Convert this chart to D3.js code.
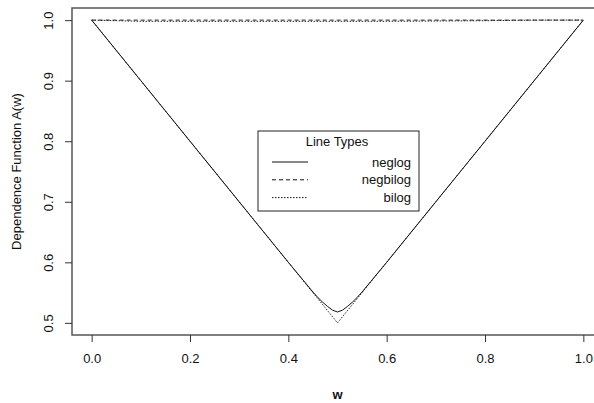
<!DOCTYPE html>
<html>
<head>
<meta charset="utf-8">
<script src="https://cdn.jsdelivr.net/npm/d3@7"></script>
<style>
  body { margin: 0; background: #fff; }
  text { font-family: "Liberation Sans", Arial, sans-serif; fill: #111; }
</style>
</head>
<body>
<div id="chart"></div>
<script>
// values
var neglogW = [0, 0.1, 0.2, 0.3, 0.4, 0.45, 0.46, 0.47, 0.48, 0.49, 0.5, 0.51, 0.52, 0.53, 0.54, 0.55, 0.6, 0.7, 0.8, 0.9, 1],
    neglogA = [1, 0.9, 0.8, 0.7, 0.6, 0.551, 0.542, 0.534, 0.527, 0.521, 0.518, 0.521, 0.527, 0.534, 0.542, 0.551, 0.6, 0.7, 0.8, 0.9, 1];
var negbilogW = [0, 0.5, 1],
    negbilogA = [1, 1, 1];
var bilogW = [0, 0.1, 0.3, 0.6, 0.8, 0.9, 1],
    bilogA = [1, 0.998, 0.998, 0.998, 0.999, 1, 1];
var borderW = [0, 0.5, 1],
    borderA = [1, 0.5, 1];
var xTicks = [0, 0.2, 0.4, 0.6, 0.8, 1.0],
    yTicks = [0.5, 0.6, 0.7, 0.8, 0.9, 1.0];
var legendNames = ["neglog", "negbilog", "bilog"],
    legendDash = [null, "4,3", "1.5,1.5"];

var width = 594, height = 403;
var margin = {top: 8, right: -9, bottom: 68, left: 72};
var pw = width - margin.left - margin.right,
    ph = height - margin.top - margin.bottom;

var svg = d3.select("#chart").append("svg")
    .attr("width", width)
    .attr("height", height);

var g = svg.append("g")
    .attr("transform", "translate(" + margin.left + "," + margin.top + ")");

// R style 4% padding
var x = d3.scaleLinear().domain([-0.04, 1.04]).range([0, pw]),
    y = d3.scaleLinear().domain([0.48, 1.02]).range([ph, 0]);

var line = d3.line()
    .x(function (d) { return x(d[0]); })
    .y(function (d) { return y(d[1]); });

function pairs(ws, as) {
    return ws.map(function (w, i) { return [w, as[i]]; });
}

g.append("path")
    .datum(pairs(borderW, borderA))
    .attr("d", line)
    .attr("fill", "none")
    .attr("stroke", "#222")
    .attr("stroke-width", 1)
    .attr("stroke-dasharray", legendDash[2]);

g.append("path")
    .datum(pairs(bilogW, bilogA))
    .attr("d", line)
    .attr("fill", "none")
    .attr("stroke", "#222")
    .attr("stroke-width", 1)
    .attr("stroke-dasharray", legendDash[2]);

g.append("path")
    .datum(pairs(negbilogW, negbilogA))
    .attr("d", line)
    .attr("fill", "none")
    .attr("stroke", "#222")
    .attr("stroke-width", 1)
    .attr("stroke-dasharray", legendDash[1]);

g.append("path")
    .datum(pairs(neglogW, neglogA))
    .attr("d", line)
    .attr("fill", "none")
    .attr("stroke", "#111")
    .attr("stroke-width", 1);

// frame
g.append("rect")
    .attr("width", pw)
    .attr("height", ph)
    .attr("fill", "none")
    .attr("stroke", "#555")
    .attr("stroke-width", 1.5);

// x axis
var xAxis = g.append("g")
    .attr("transform", "translate(0," + ph + ")")
    .call(d3.axisBottom(x).tickValues(xTicks).tickFormat(d3.format(".1f")).tickSize(7).tickPadding(12));
xAxis.select(".domain").remove();
xAxis.selectAll("line").attr("stroke", "#333");
xAxis.selectAll("text").style("font-size", "13px").attr("fill", "#111");

// y axis, labels rotated like R
var yAxis = g.append("g")
    .call(d3.axisLeft(y).tickValues(yTicks).tickFormat(d3.format(".1f")).tickSize(7).tickPadding(0));
yAxis.select(".domain").remove();
yAxis.selectAll("line").attr("stroke", "#333");
yAxis.selectAll("text")
    .style("font-size", "13px")
    .attr("fill", "#111")
    .attr("text-anchor", "middle")
    .attr("x", 0).attr("dy", 0)
    .attr("transform", "translate(-19,0) rotate(-90)");

svg.append("text")
    .attr("x", margin.left + x(0.5))
    .attr("y", 399)
    .attr("text-anchor", "middle")
    .style("font-size", "13px")
    .style("font-weight", "bold")
    .text("w");

svg.append("text")
    .attr("transform", "translate(21," + (margin.top + y(0.75)) + ") rotate(-90)")
    .attr("text-anchor", "middle")
    .style("font-size", "13px")
    .text("Dependence Function A(w)");

// legend
var lg = svg.append("g").attr("transform", "translate(258,131)");
lg.append("rect")
    .attr("width", 161)
    .attr("height", 80)
    .attr("fill", "#fff")
    .attr("stroke", "#222")
    .attr("stroke-width", 1);
lg.append("text")
    .attr("x", 79)
    .attr("y", 15)
    .attr("text-anchor", "middle")
    .style("font-size", "13px")
    .text("Line Types");

var rows = lg.selectAll(".row")
    .data(legendNames)
    .enter().append("g")
    .attr("class", "row")
    .attr("transform", function (d, i) { return "translate(0," + (31 + i * 17.8) + ")"; });
rows.append("line")
    .attr("x1", 14).attr("x2", 50)
    .attr("stroke", "#111")
    .attr("stroke-width", 1)
    .attr("stroke-dasharray", function (d, i) { return legendDash[i]; });
rows.append("text")
    .attr("x", 153)
    .attr("dy", "0.35em")
    .attr("text-anchor", "end")
    .style("font-size", "13px")
    .text(function (d) { return d; });
</script>
</body>
</html>
